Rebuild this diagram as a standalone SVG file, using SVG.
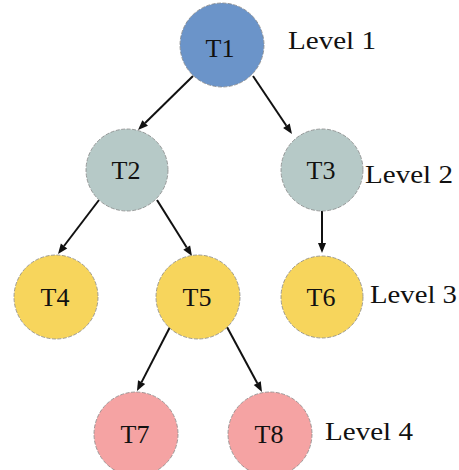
<svg xmlns="http://www.w3.org/2000/svg" width="459" height="470" viewBox="0 0 459 470">
<style>
text{font-family:"Liberation Serif","Times New Roman",Times,serif !important;font-size:26px;fill:#111}
.lbl{text-anchor:middle}
.c{stroke:#7a7a7a;stroke-width:1;stroke-dasharray:4 1.5;stroke-opacity:0.7}
.b{fill:#6b94c9}.g{fill:#b6c9c7}.y{fill:#f7d55c}.p{fill:#f5a3a3}
.e{stroke:#111;stroke-width:2}
.h{fill:#111}
</style>
<rect width="459" height="470" fill="#fff"/>
<g id="connectors">
<line class="e" x1="193" y1="76" x2="145.1" y2="123"/>
<polygon class="h" points="138,130 142.34,120.14 147.94,125.85"/>
<line class="e" x1="253" y1="76" x2="286.4" y2="125.7"/>
<polygon class="h" points="292,134 283.10,127.93 289.74,123.47"/>
<line class="e" x1="99" y1="200" x2="64" y2="246"/>
<polygon class="h" points="58,254 60.86,243.62 67.24,248.46"/>
<line class="e" x1="157" y1="200" x2="186.7" y2="247.5"/>
<polygon class="h" points="192,256 183.31,249.64 190.09,245.40"/>
<line class="e" x1="322" y1="211" x2="322" y2="243"/>
<polygon class="h" points="322,253 318,243 326,243"/>
<line class="e" x1="170" y1="327" x2="141.6" y2="382.1"/>
<polygon class="h" points="137,391 138.02,380.28 145.14,383.94"/>
<line class="e" x1="227" y1="327" x2="257.3" y2="383.2"/>
<polygon class="h" points="262,392 253.74,385.09 260.78,381.29"/>
</g>
<g id="T1"><circle class="c b" cx="222" cy="45" r="42"/><text class="lbl" x="220" y="57" font-family="Liberation Serif">T1</text></g>
<g id="T2"><circle class="c g" cx="127" cy="170" r="41"/><text class="lbl" x="126" y="179" font-family="Liberation Serif">T2</text></g>
<g id="T3"><circle class="c g" cx="322" cy="170" r="41"/><text class="lbl" x="321" y="179" font-family="Liberation Serif">T3</text></g>
<g id="T4"><circle class="c y" cx="56" cy="297" r="42"/><text class="lbl" x="55" y="306" font-family="Liberation Serif">T4</text></g>
<g id="T5"><circle class="c y" cx="198" cy="297" r="42"/><text class="lbl" x="197" y="306" font-family="Liberation Serif">T5</text></g>
<g id="T6"><circle class="c y" cx="322" cy="297" r="41"/><text class="lbl" x="321" y="306" font-family="Liberation Serif">T6</text></g>
<g id="T7"><circle class="c p" cx="136" cy="434" r="42"/><text class="lbl" x="135" y="443" font-family="Liberation Serif">T7</text></g>
<g id="T8"><circle class="c p" cx="270" cy="434" r="42"/><text class="lbl" x="269" y="443" font-family="Liberation Serif">T8</text></g>
<g id="levels">
<text x="288" y="49" font-family="Liberation Serif" textLength="88" lengthAdjust="spacingAndGlyphs">Level 1</text>
<text x="365" y="183" font-family="Liberation Serif" textLength="88" lengthAdjust="spacingAndGlyphs">Level 2</text>
<text x="370" y="303" font-family="Liberation Serif" textLength="87" lengthAdjust="spacingAndGlyphs">Level 3</text>
<text x="325" y="440" font-family="Liberation Serif" textLength="88" lengthAdjust="spacingAndGlyphs">Level 4</text>
</g>
</svg>
